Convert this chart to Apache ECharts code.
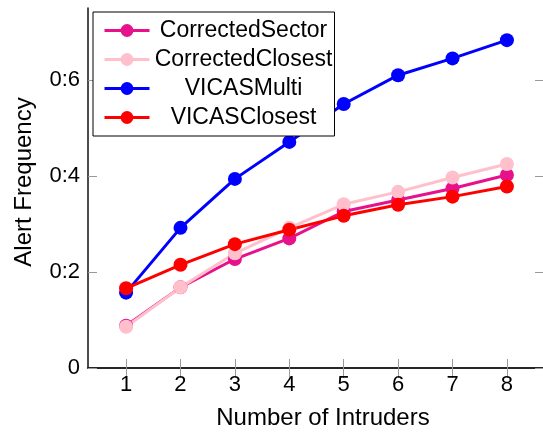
<!DOCTYPE html>
<html>
<head>
<meta charset="utf-8">
<script src="https://cdn.jsdelivr.net/npm/echarts@6/dist/echarts.min.js"></script>
<style>
  html, body { margin: 0; padding: 0; background: #fff; }
  #main { width: 543px; height: 432px; }
</style>
</head>
<body>
<div id="main"></div>
<script>
const intruders = [1, 2, 3, 4, 5, 6, 7, 8];
const yTicks = [0, 0.2, 0.4, 0.6];
const seriesNames = ['CorrectedSector', 'CorrectedClosest', 'VICASMulti', 'VICASClosest'];
const correctedSector = [0.088, 0.168, 0.227, 0.270, 0.326, 0.350, 0.374, 0.402];
const correctedClosest = [0.086, 0.168, 0.239, 0.292, 0.341, 0.367, 0.397, 0.425];
const vicasMulti = [0.157, 0.292, 0.394, 0.471, 0.550, 0.610, 0.645, 0.683];
const vicasClosest = [0.166, 0.215, 0.258, 0.288, 0.317, 0.340, 0.357, 0.378];
const colors = ['#e8118c', '#ffc0cb', '#0000ff', '#ff0000'];

const font = 'Liberation Sans, Arial, Helvetica, sans-serif';
const chart = echarts.init(document.getElementById('main'));

function makeSeries(name, values, color) {
  return {
    name: name,
    type: 'line',
    data: values.map((v, i) => [intruders[i], v]),
    symbol: 'circle',
    symbolSize: 14,
    itemStyle: { color: color },
    lineStyle: { color: color, width: 3 },
    emphasis: { disabled: true },
    animation: false
  };
}

const option = {
  animation: false,
  grid: { left: 88, top: 8, width: 457, height: 360, outerBoundsMode: 'none', containLabel: false },
  legend: {
    orient: 'vertical',
    left: 93,
    top: 12,
    padding: [7, 2, 7, 10],
    itemGap: 6,
    itemWidth: 45,
    itemHeight: 16,
    borderColor: '#000',
    borderWidth: 1,
    backgroundColor: '#fff',
    lineStyle: { width: 3 },
    data: seriesNames,
    formatter: name => '{a|' + name + '}',
    textStyle: {
      rich: {
        a: { width: 178, align: 'center', fontSize: 23, lineHeight: 24, fontFamily: font, color: '#000' }
      }
    }
  },
  xAxis: [
    {
      type: 'value',
      min: 0.3,
      max: 8.7,
      name: 'Number of Intruders',
      nameLocation: 'middle',
      nameGap: 38,
      nameTextStyle: { fontSize: 24, fontFamily: font, color: '#000', padding: [0, 0, 0, 13] },
      axisLine: { show: true, lineStyle: { color: '#444', width: 1.5 } },
      axisTick: { show: true, inside: true, length: 9, lineStyle: { color: '#999' }, customValues: intruders },
      axisLabel: { fontSize: 22, fontFamily: font, color: '#000', margin: 6, customValues: intruders },
      splitLine: { show: false }
    },
    {
      type: 'value',
      position: 'top',
      min: 0.3,
      max: 8.7,
      axisLine: { show: true, lineStyle: { color: '#111', width: 1.5 } },
      axisTick: { show: true, inside: true, length: 10, lineStyle: { color: '#999' }, customValues: intruders },
      axisLabel: { show: false },
      splitLine: { show: false }
    }
  ],
  yAxis: [
    {
      type: 'value',
      min: 0,
      max: 0.75,
      name: 'Alert Frequency',
      nameLocation: 'middle',
      nameGap: 52,
      nameTextStyle: { fontSize: 24, fontFamily: font, color: '#000', padding: [0, 0, 0, 12] },
      axisLine: { show: true, lineStyle: { color: '#111', width: 1.5 } },
      axisTick: { show: true, inside: true, length: 9, lineStyle: { color: '#999' }, customValues: yTicks },
      axisLabel: {
        fontSize: 22, fontFamily: font, color: '#000', margin: 8, customValues: yTicks,
        formatter: v => (v === 0 ? '0' : '0:' + Math.round(v * 10))
      },
      splitLine: { show: false }
    },
    {
      type: 'value',
      position: 'right',
      min: 0,
      max: 0.75,
      axisLine: { show: true, lineStyle: { color: '#111', width: 1.5 } },
      axisTick: { show: true, inside: true, length: 10, lineStyle: { color: '#999' }, customValues: yTicks },
      axisLabel: { show: false },
      splitLine: { show: false }
    }
  ],
  series: [
    makeSeries(seriesNames[0], correctedSector, colors[0]),
    makeSeries(seriesNames[1], correctedClosest, colors[1]),
    makeSeries(seriesNames[2], vicasMulti, colors[2]),
    makeSeries(seriesNames[3], vicasClosest, colors[3])
  ]
};

chart.setOption(option);
</script>
</body>
</html>
